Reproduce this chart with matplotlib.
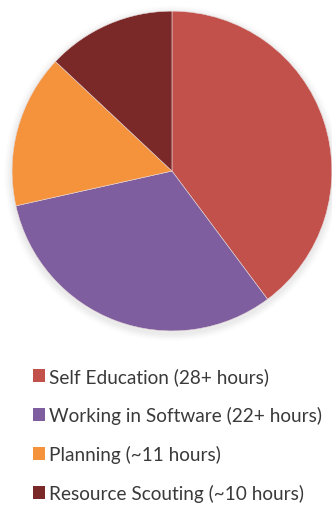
import matplotlib
matplotlib.use("Agg")
import matplotlib.pyplot as plt
from matplotlib.patches import Circle

categories = ["Self Education (28+ hours)", "Working in Software (22+ hours)",
              "Planning (~11 hours)", "Resource Scouting (~10 hours)"]
hours = [28.5, 22.7, 11.1, 9.3]
colors = ["#C2504B", "#7E5E9E", "#F5933C", "#7A2828"]

fig = plt.figure(figsize=(3.32, 5.06), dpi=100)
ax = fig.add_axes([0.036, 0.344, 0.964, 0.632])

# soft shadow
for i, a in enumerate([0.05, 0.04, 0.03, 0.02]):
    c = Circle((0.0, -0.015), 1.0 + 0.012 * (i + 1), color="#777777", alpha=a, zorder=0, lw=0)
    c.set_clip_on(False)
    ax.add_patch(c)

wedges, _ = ax.pie(hours, colors=colors, startangle=90, counterclock=False, radius=1.0,
                   wedgeprops=dict(edgecolor="#e8d8d8", linewidth=0.4))
for w in wedges:
    w.set_zorder(2)
ax.set_xlim(-1.0, 1.0)
ax.set_ylim(-1.0, 1.0)
ax.set_aspect("equal")
ax.axis("off")

leg = fig.legend(wedges, categories, loc="upper left", bbox_to_anchor=(0.058, 0.299),
                 frameon=False, handlelength=0.66, handleheight=0.66, handletextpad=0.2,
                 labelspacing=1.1, borderpad=0.2, prop=dict(family="Lato", size=13.7))
for t in leg.get_texts():
    t.set_color("#3a3a3a")
for h in leg.legend_handles:
    h.set_edgecolor("none")

fig.savefig("out.png", dpi=100)
